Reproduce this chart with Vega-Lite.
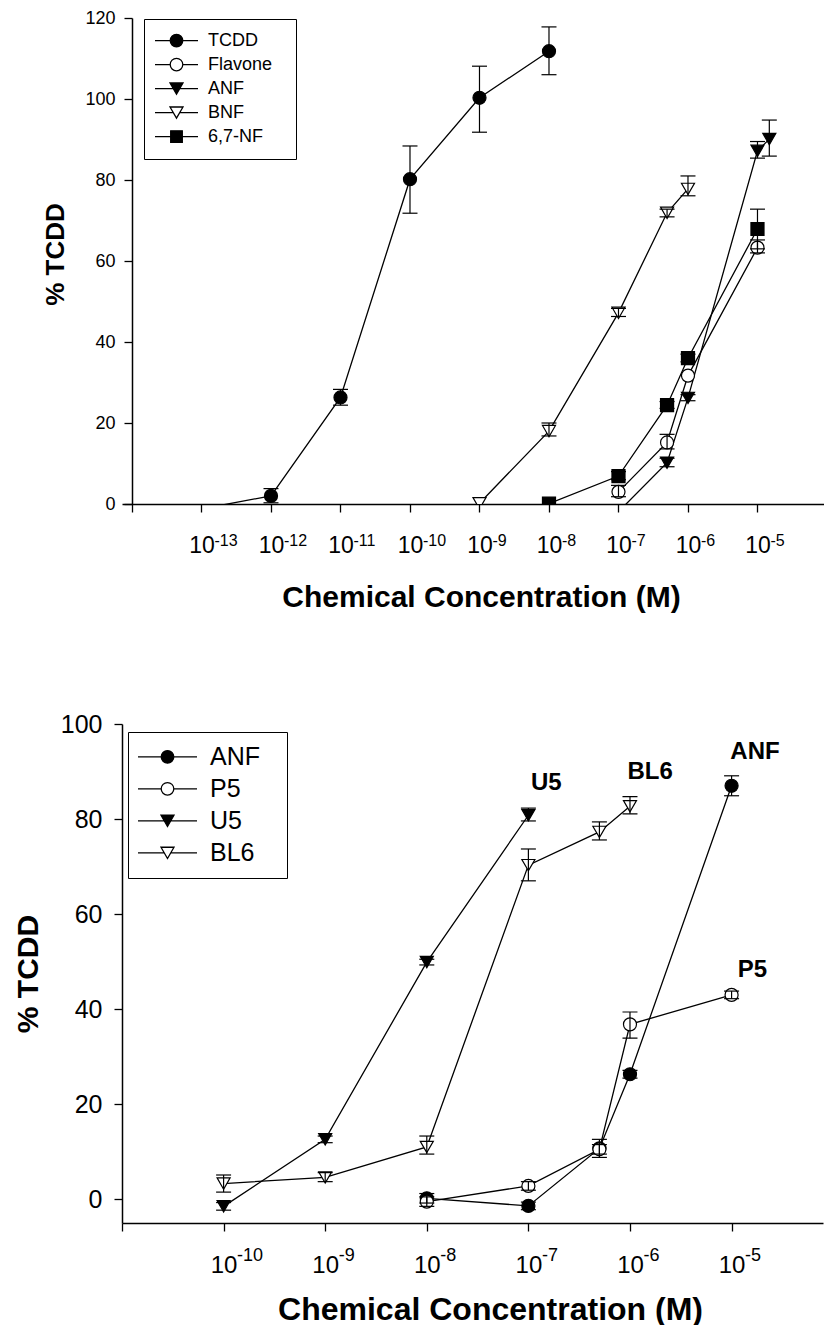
{
  "$schema": "https://vega.github.io/schema/vega-lite/v6.json",
  "background": "white",
  "padding": {"left": 13, "top": 9, "right": 0, "bottom": 0},
  "autosize": {"type": "pad"},
  "bounds": "flush",
  "spacing": 220,
  "resolve": {
    "scale": {"x": "independent", "y": "independent", "shape": "independent", "fill": "independent", "stroke": "independent"},
    "axis": {"x": "independent", "y": "independent"},
    "legend": {"shape": "independent", "fill": "independent", "stroke": "independent"}
  },
  "config": {
    "view": {"stroke": null},
    "font": "Liberation Sans",
    "axis": {
      "grid": false,
      "domainColor": "black",
      "domainWidth": 1.5,
      "tickColor": "black",
      "tickWidth": 1.3,
      "tickSize": 8,
      "labelColor": "black",
      "titleColor": "black",
      "labelFont": "Liberation Sans",
      "titleFont": "Liberation Sans",
      "titleFontWeight": "bold",
      "labelOverlap": false,
      "labelFlush": false
    }
  },
  "datasets": {
    "top": [
      {"chem": "TCDD", "conc": 1e-13, "pct": -1.2, "lo": null, "hi": null},
      {"chem": "TCDD", "conc": 1e-12, "pct": 2.0, "lo": 0.3, "hi": 3.8},
      {"chem": "TCDD", "conc": 1e-11, "pct": 26.3, "lo": 24.4, "hi": 28.3},
      {"chem": "TCDD", "conc": 1e-10, "pct": 80.2, "lo": 71.8, "hi": 88.4},
      {"chem": "TCDD", "conc": 1e-9, "pct": 100.3, "lo": 91.8, "hi": 108.1},
      {"chem": "TCDD", "conc": 1e-8, "pct": 111.8, "lo": 106.0, "hi": 117.8},
      {"chem": "Flavone", "conc": 1e-7, "pct": 3.0, "lo": 1.8, "hi": 4.6},
      {"chem": "Flavone", "conc": 5e-7, "pct": 15.2, "lo": 13.6, "hi": 17.2},
      {"chem": "Flavone", "conc": 1e-6, "pct": 31.7, "lo": null, "hi": null},
      {"chem": "Flavone", "conc": 1e-5, "pct": 63.3, "lo": 62.0, "hi": 65.2},
      {"chem": "ANF", "conc": 1e-7, "pct": -1.9, "lo": null, "hi": null},
      {"chem": "ANF", "conc": 5e-7, "pct": 10.2, "lo": 9.2, "hi": 11.3},
      {"chem": "ANF", "conc": 1e-6, "pct": 26.2, "lo": 25.5, "hi": 27.0},
      {"chem": "ANF", "conc": 1e-5, "pct": 87.2, "lo": 85.4, "hi": 89.5},
      {"chem": "ANF", "conc": 1.48e-5, "pct": 90.1, "lo": 85.9, "hi": 94.8},
      {"chem": "BNF", "conc": 1e-9, "pct": 0.2, "lo": null, "hi": null},
      {"chem": "BNF", "conc": 1e-8, "pct": 18.0, "lo": 16.8, "hi": 20.0},
      {"chem": "BNF", "conc": 1e-7, "pct": 47.2, "lo": 46.3, "hi": 48.3},
      {"chem": "BNF", "conc": 5e-7, "pct": 71.9, "lo": 70.9, "hi": 72.8},
      {"chem": "BNF", "conc": 1e-6, "pct": 77.8, "lo": 76.1, "hi": 81.0},
      {"chem": "6,7-NF", "conc": 1e-8, "pct": 0.1, "lo": null, "hi": null},
      {"chem": "6,7-NF", "conc": 1e-7, "pct": 6.9, "lo": 6.0, "hi": 8.0},
      {"chem": "6,7-NF", "conc": 5e-7, "pct": 24.4, "lo": 23.6, "hi": 25.3},
      {"chem": "6,7-NF", "conc": 1e-6, "pct": 36.0, "lo": 35.1, "hi": 37.0},
      {"chem": "6,7-NF", "conc": 1e-5, "pct": 67.9, "lo": 63.0, "hi": 72.8}
    ],
    "bottom": [
      {"strain": "ANF", "conc": 1e-8, "pct": 0.2, "lo": -0.8, "hi": 1.2},
      {"strain": "ANF", "conc": 1e-7, "pct": -1.4, "lo": -2.2, "hi": -0.6},
      {"strain": "ANF", "conc": 5e-7, "pct": 10.7, "lo": 8.8, "hi": 12.6},
      {"strain": "ANF", "conc": 1e-6, "pct": 26.3, "lo": 25.5, "hi": 27.1},
      {"strain": "ANF", "conc": 1e-5, "pct": 87.0, "lo": 84.9, "hi": 89.1},
      {"strain": "P5", "conc": 1e-8, "pct": -0.5, "lo": -1.5, "hi": 0.5},
      {"strain": "P5", "conc": 1e-7, "pct": 2.8, "lo": 1.9, "hi": 3.7},
      {"strain": "P5", "conc": 5e-7, "pct": 10.5, "lo": 9.5, "hi": 11.5},
      {"strain": "P5", "conc": 1e-6, "pct": 36.8, "lo": 33.9, "hi": 39.4},
      {"strain": "P5", "conc": 1e-5, "pct": 43.0, "lo": 42.2, "hi": 43.8},
      {"strain": "U5", "conc": 1e-10, "pct": -1.5, "lo": -2.3, "hi": -0.7},
      {"strain": "U5", "conc": 1e-9, "pct": 12.6, "lo": 11.9, "hi": 13.3},
      {"strain": "U5", "conc": 1e-8, "pct": 49.9, "lo": 49.3, "hi": 50.5},
      {"strain": "U5", "conc": 1e-7, "pct": 80.8, "lo": 79.6, "hi": 82.3},
      {"strain": "BL6", "conc": 1e-10, "pct": 3.3, "lo": 1.5, "hi": 5.1},
      {"strain": "BL6", "conc": 1e-9, "pct": 4.6, "lo": 3.7, "hi": 5.6},
      {"strain": "BL6", "conc": 1e-8, "pct": 11.0, "lo": 9.5, "hi": 13.3},
      {"strain": "BL6", "conc": 1e-7, "pct": 70.3, "lo": 67.0, "hi": 73.7},
      {"strain": "BL6", "conc": 5e-7, "pct": 77.3, "lo": 75.6, "hi": 79.4},
      {"strain": "BL6", "conc": 1e-6, "pct": 82.7, "lo": 81.1, "hi": 84.7}
    ],
    "notes": [
      {"label": "U5", "conc": 1.5e-7, "pct": 87.6},
      {"label": "BL6", "conc": 1.58e-6, "pct": 89.9},
      {"label": "ANF", "conc": 1.7e-5, "pct": 94.1},
      {"label": "P5", "conc": 1.6e-5, "pct": 48.2}
    ]
  },
  "vconcat": [
    {
      "width": 702,
      "height": 486,
      "data": {"name": "top"},
      "resolve": {
        "axis": {"x": "independent"},
        "scale": {"shape": "independent", "fill": "independent", "stroke": "independent"},
        "legend": {"shape": "independent", "fill": "independent", "stroke": "independent"}
      },
      "layer": [
        {
          "mark": {"type": "line", "color": "black", "strokeWidth": 1.3, "clip": true},
          "encoding": {
            "x": {
              "field": "conc", "type": "quantitative",
              "title": "Chemical Concentration (M)",
              "scale": {"type": "log", "domain": [7.18e-15, 9.06e-5], "nice": false},
              "axis": {
                "orient": "bottom",
                "values": [1e-14, 1e-13, 1e-12, 1e-11, 1e-10, 1e-9, 1e-8, 1e-7, 1e-6, 1e-5],
                "labelExpr": "datum.value < 5e-14 ? '' : '10'",
                "labelAlign": "center",
                "labelFontSize": 23,
                "labelPadding": 22,
                "titleFontSize": 30,
                "titleX": 359,
                "titleY": 78,
                "titleBaseline": "top"
              }
            },
            "y": {
              "field": "pct", "type": "quantitative",
              "title": "% TCDD",
              "scale": {"domain": [0, 120], "nice": false, "zero": false},
              "axis": {
                "values": [0, 20, 40, 60, 80, 100, 120],
                "offset": -10,
                "labelFontSize": 18,
                "labelPadding": 9,
                "titleFontSize": 26,
                "titleX": -63.5,
                "titleY": 236
              }
            },
            "detail": {"field": "chem"},
            "order": {"field": "conc", "type": "quantitative"}
          }
        },
        {
          "mark": {"type": "point", "filled": true, "size": 1849, "opacity": 0},
          "encoding": {
            "x": {"field": "conc", "type": "quantitative", "axis": null},
            "y": {"field": "pct", "type": "quantitative", "title": "% TCDD"},
            "shape": {
              "field": "chem", "type": "nominal",
              "scale": {
                "domain": ["TCDD", "Flavone", "ANF", "BNF", "6,7-NF"],
                "range": [
                  "M-1,0H-0.293M0.293,0H1M0.293,0A0.293,0.293,0,1,1,-0.293,0A0.293,0.293,0,1,1,0.293,0Z",
                  "M-1,0H-0.293M0.293,0H1M0.293,0A0.293,0.293,0,1,1,-0.293,0A0.293,0.293,0,1,1,0.293,0Z",
                  "M-1,0H-0.151M0.151,0H1M-0.302,-0.26H0.302L0,0.26Z",
                  "M-1,0H-0.151M0.151,0H1M-0.302,-0.26H0.302L0,0.26Z",
                  "M-1,0H-0.27M0.27,0H1M-0.27,-0.27H0.27V0.27H-0.27Z"
                ]
              },
              "legend": {
                "orient": "none", "legendX": 22, "legendY": 1,
                "title": null,
                "padding": 10,
                "strokeColor": "black",
                "fillColor": "white",
                "labelFont": "Liberation Sans",
                "labelFontSize": 18,
                "labelColor": "black",
                "labelOffset": 9,
                "labelExpr": "datum.label + '\u2800'",
                "symbolSize": 1849,
                "symbolOpacity": 1,
                "clipHeight": 23.2,
                "rowPadding": 0,
                "symbolStrokeWidth": 1.3
              }
            },
            "fill": {
              "field": "chem", "type": "nominal",
              "scale": {"domain": ["TCDD", "Flavone", "ANF", "BNF", "6,7-NF"], "range": ["black", "white", "black", "white", "black"]},
              "legend": {
                "orient": "none", "legendX": 22, "legendY": 1,
                "title": null,
                "padding": 10,
                "strokeColor": "black",
                "fillColor": "white",
                "labelFont": "Liberation Sans",
                "labelFontSize": 18,
                "labelColor": "black",
                "labelOffset": 9,
                "labelExpr": "datum.label + '\u2800'",
                "symbolSize": 1849,
                "symbolOpacity": 1,
                "clipHeight": 23.2,
                "rowPadding": 0,
                "symbolStrokeWidth": 1.3
              }
            },
            "stroke": {
              "field": "chem", "type": "nominal",
              "scale": {"domain": ["TCDD", "Flavone", "ANF", "BNF", "6,7-NF"], "range": ["black", "black", "black", "black", "black"]},
              "legend": {
                "orient": "none", "legendX": 22, "legendY": 1,
                "title": null,
                "padding": 10,
                "strokeColor": "black",
                "fillColor": "white",
                "labelFont": "Liberation Sans",
                "labelFontSize": 18,
                "labelColor": "black",
                "labelOffset": 9,
                "labelExpr": "datum.label + '\u2800'",
                "symbolSize": 1849,
                "symbolOpacity": 1,
                "clipHeight": 23.2,
                "rowPadding": 0,
                "symbolStrokeWidth": 1.3
              }
            }
          }
        },
        {
          "transform": [{"filter": "datum.pct >= 0"}],
          "mark": {"type": "point", "filled": true, "size": 170, "stroke": "black", "strokeWidth": 1.2, "opacity": 1, "clip": true},
          "encoding": {
            "x": {
              "field": "conc", "type": "quantitative",
              "axis": {
                "orient": "bottom",
                "title": null,
                "domain": false,
                "tickOpacity": 0,
                "values": [1e-14, 1e-13, 1e-12, 1e-11, 1e-10, 1e-9, 1e-8, 1e-7, 1e-6, 1e-5],
                "labelExpr": "datum.value < 5e-14 ? '' : '-' + format(round(-log(datum.value)/LN10), 'd')",
                "labelAlign": "left",
                "labelOffset": 12.5,
                "labelFontSize": 16,
                "labelPadding": 20
              }
            },
            "y": {"field": "pct", "type": "quantitative", "title": "% TCDD"},
            "shape": {
              "field": "chem", "type": "nominal",
              "scale": {"domain": ["TCDD", "Flavone", "ANF", "BNF", "6,7-NF"], "range": ["circle", "circle", "triangle-down", "triangle-down", "square"]},
              "legend": null
            },
            "fill": {
              "field": "chem", "type": "nominal",
              "scale": {"domain": ["TCDD", "Flavone", "ANF", "BNF", "6,7-NF"], "range": ["black", "white", "black", "white", "black"]},
              "legend": null
            }
          }
        },
        {
          "transform": [{"filter": "isValid(datum.lo)"}],
          "mark": {"type": "rule", "color": "black", "strokeWidth": 1.2},
          "encoding": {
            "x": {"field": "conc", "type": "quantitative", "axis": null},
            "y": {"field": "lo", "type": "quantitative", "title": "% TCDD"},
            "y2": {"field": "hi"}
          }
        },
        {
          "transform": [{"filter": "isValid(datum.lo)"}],
          "mark": {"type": "tick", "orient": "horizontal", "color": "black", "thickness": 1.2, "opacity": 1},
          "encoding": {
            "x": {"field": "conc", "type": "quantitative", "axis": null},
            "y": {"field": "lo", "type": "quantitative", "title": "% TCDD"},
            "size": {"value": 15}
          }
        },
        {
          "transform": [{"filter": "isValid(datum.hi)"}],
          "mark": {"type": "tick", "orient": "horizontal", "color": "black", "thickness": 1.2, "opacity": 1},
          "encoding": {
            "x": {"field": "conc", "type": "quantitative", "axis": null},
            "y": {"field": "hi", "type": "quantitative", "title": "% TCDD"},
            "size": {"value": 15}
          }
        }
      ]
    },
    {
      "width": 701,
      "height": 499,
      "resolve": {
        "axis": {"x": "independent"},
        "scale": {"shape": "independent", "fill": "independent", "stroke": "independent"},
        "legend": {"shape": "independent", "fill": "independent", "stroke": "independent"}
      },
      "layer": [
        {
          "data": {"name": "bottom"},
          "mark": {"type": "line", "color": "black", "strokeWidth": 1.3},
          "encoding": {
            "x": {
              "field": "conc", "type": "quantitative",
              "title": "Chemical Concentration (M)",
              "scale": {"type": "log", "domain": [1e-11, 7.94e-5], "nice": false},
              "axis": {
                "orient": "bottom",
                "values": [1e-11, 1e-10, 1e-9, 1e-8, 1e-7, 1e-6, 1e-5],
                "labelExpr": "datum.value < 5e-11 ? '' : '10'",
                "labelAlign": "center",
                "labelFontSize": 24,
                "labelPadding": 22,
                "titleFontSize": 32,
                "titleX": 368,
                "titleY": 71,
                "titleBaseline": "top"
              }
            },
            "y": {
              "field": "pct", "type": "quantitative",
              "title": "% TCDD",
              "scale": {"domain": [-5, 100], "nice": false, "zero": false},
              "axis": {
                "values": [0, 20, 40, 60, 80, 100],
                "labelFontSize": 25,
                "labelPadding": 12,
                "titleFontSize": 30,
                "titleX": -79
              }
            },
            "detail": {"field": "strain"},
            "order": {"field": "conc", "type": "quantitative"}
          }
        },
        {
          "data": {"name": "bottom"},
          "mark": {"type": "point", "filled": true, "size": 3481, "opacity": 0},
          "encoding": {
            "x": {"field": "conc", "type": "quantitative", "axis": null},
            "y": {"field": "pct", "type": "quantitative", "title": "% TCDD"},
            "shape": {
              "field": "strain", "type": "nominal",
              "scale": {
                "domain": ["ANF", "P5", "U5", "BL6"],
                "range": [
                  "M-1,0H-0.214M0.214,0H1M0.214,0A0.214,0.214,0,1,1,-0.214,0A0.214,0.214,0,1,1,0.214,0Z",
                  "M-1,0H-0.214M0.214,0H1M0.214,0A0.214,0.214,0,1,1,-0.214,0A0.214,0.214,0,1,1,0.214,0Z",
                  "M-1,0H-0.11M0.11,0H1M-0.22,-0.19H0.22L0,0.19Z",
                  "M-1,0H-0.11M0.11,0H1M-0.22,-0.19H0.22L0,0.19Z"
                ]
              },
              "legend": {
                "orient": "none", "legendX": 6, "legendY": 8,
                "title": null,
                "padding": 9,
                "strokeColor": "black",
                "fillColor": "white",
                "labelFont": "Liberation Sans",
                "labelFontSize": 25,
                "labelColor": "black",
                "labelOffset": 12,
                "labelExpr": "datum.label + '\u2800'",
                "symbolSize": 3481,
                "symbolOpacity": 1,
                "clipHeight": 31.7,
                "rowPadding": 0,
                "symbolStrokeWidth": 1.3
              }
            },
            "fill": {
              "field": "strain", "type": "nominal",
              "scale": {"domain": ["ANF", "P5", "U5", "BL6"], "range": ["black", "white", "black", "white"]},
              "legend": {
                "orient": "none", "legendX": 6, "legendY": 8,
                "title": null,
                "padding": 9,
                "strokeColor": "black",
                "fillColor": "white",
                "labelFont": "Liberation Sans",
                "labelFontSize": 25,
                "labelColor": "black",
                "labelOffset": 12,
                "labelExpr": "datum.label + '\u2800'",
                "symbolSize": 3481,
                "symbolOpacity": 1,
                "clipHeight": 31.7,
                "rowPadding": 0,
                "symbolStrokeWidth": 1.3
              }
            },
            "stroke": {
              "field": "strain", "type": "nominal",
              "scale": {"domain": ["ANF", "P5", "U5", "BL6"], "range": ["black", "black", "black", "black"]},
              "legend": {
                "orient": "none", "legendX": 6, "legendY": 8,
                "title": null,
                "padding": 9,
                "strokeColor": "black",
                "fillColor": "white",
                "labelFont": "Liberation Sans",
                "labelFontSize": 25,
                "labelColor": "black",
                "labelOffset": 12,
                "labelExpr": "datum.label + '\u2800'",
                "symbolSize": 3481,
                "symbolOpacity": 1,
                "clipHeight": 31.7,
                "rowPadding": 0,
                "symbolStrokeWidth": 1.3
              }
            }
          }
        },
        {
          "data": {"name": "bottom"},
          "mark": {"type": "point", "filled": true, "size": 170, "stroke": "black", "strokeWidth": 1.2, "opacity": 1},
          "encoding": {
            "x": {
              "field": "conc", "type": "quantitative",
              "axis": {
                "orient": "bottom",
                "title": null,
                "domain": false,
                "tickOpacity": 0,
                "values": [1e-11, 1e-10, 1e-9, 1e-8, 1e-7, 1e-6, 1e-5],
                "labelExpr": "datum.value < 5e-11 ? '' : '-' + format(round(-log(datum.value)/LN10), 'd')",
                "labelAlign": "left",
                "labelOffset": 13,
                "labelFontSize": 18,
                "labelPadding": 15
              }
            },
            "y": {"field": "pct", "type": "quantitative", "title": "% TCDD"},
            "shape": {
              "field": "strain", "type": "nominal",
              "scale": {"domain": ["ANF", "P5", "U5", "BL6"], "range": ["circle", "circle", "triangle-down", "triangle-down"]},
              "legend": null
            },
            "fill": {
              "field": "strain", "type": "nominal",
              "scale": {"domain": ["ANF", "P5", "U5", "BL6"], "range": ["black", "white", "black", "white"]},
              "legend": null
            }
          }
        },
        {
          "data": {"name": "bottom"},
          "transform": [{"filter": "isValid(datum.lo)"}],
          "mark": {"type": "rule", "color": "black", "strokeWidth": 1.2},
          "encoding": {
            "x": {"field": "conc", "type": "quantitative", "axis": null},
            "y": {"field": "lo", "type": "quantitative", "title": "% TCDD"},
            "y2": {"field": "hi"}
          }
        },
        {
          "data": {"name": "bottom"},
          "transform": [{"filter": "isValid(datum.lo)"}],
          "mark": {"type": "tick", "orient": "horizontal", "color": "black", "thickness": 1.2, "opacity": 1},
          "encoding": {
            "x": {"field": "conc", "type": "quantitative", "axis": null},
            "y": {"field": "lo", "type": "quantitative", "title": "% TCDD"},
            "size": {"value": 15}
          }
        },
        {
          "data": {"name": "bottom"},
          "transform": [{"filter": "isValid(datum.hi)"}],
          "mark": {"type": "tick", "orient": "horizontal", "color": "black", "thickness": 1.2, "opacity": 1},
          "encoding": {
            "x": {"field": "conc", "type": "quantitative", "axis": null},
            "y": {"field": "hi", "type": "quantitative", "title": "% TCDD"},
            "size": {"value": 15}
          }
        },
        {
          "data": {"name": "notes"},
          "mark": {"type": "text", "font": "Liberation Sans", "fontWeight": "bold", "fontSize": 24, "color": "black", "align": "center", "baseline": "middle"},
          "encoding": {
            "x": {"field": "conc", "type": "quantitative", "axis": null},
            "y": {"field": "pct", "type": "quantitative", "title": "% TCDD"},
            "text": {"field": "label"}
          }
        }
      ]
    }
  ]
}
